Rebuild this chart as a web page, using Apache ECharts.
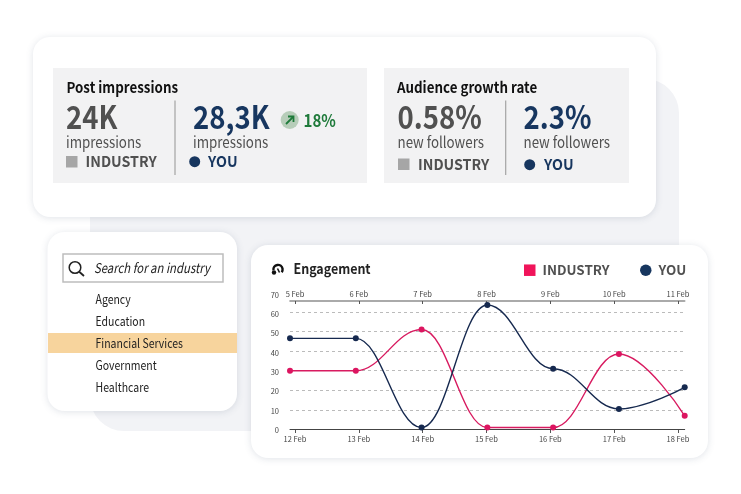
<!DOCTYPE html>
<html>
<head>
<meta charset="utf-8">
<script src="https://cdn.jsdelivr.net/npm/echarts@6/dist/echarts.min.js"></script>
<style>
html, body { margin: 0; padding: 0; background: #fff; }
#main { width: 741px; height: 494px; }
</style>
</head>
<body>
<div id="main"></div>
<script>
// chart data
var dates = ['12 Feb', '13 Feb', '14 Feb', '15 Feb', '16 Feb', '17 Feb', '18 Feb'];
var topDates = ['5 Feb', '6 Feb', '7 Feb', '8 Feb', '9 Feb', '10 Feb', '11 Feb'];
var industry = [30, 30, 51, 1, 1, 38.5, 7];
var you = [46.5, 46.5, 1, 63.5, 31, 10.5, 21.5];
var industries = ['Agency', 'Education', 'Financial Services', 'Government', 'Healthcare'];

var FONT = '"Noto Sans CJK SC", "Noto Sans", sans-serif';
var NAVY = '#17365f';
var GREY = '#505050';

function font(size, weight, style) {
    return (style ? style + ' ' : '') + (weight || 'normal') + ' ' + size + 'px ' + FONT;
}
// sx narrows the glyphs, the installed font runs wider than the picture's
function text(x, y, str, f, color, sx) {
    return {
        type: 'text', x: x, y: y, scaleX: sx || 0.88,
        style: { text: str, font: f, fill: color, verticalAlign: 'middle', align: 'left' }
    };
}
function box(x, y, w, h, color, r) {
    return { type: 'rect', shape: { x: x, y: y, width: w, height: h, r: r || 0 }, style: { fill: color } };
}
function card(x, y, w, h) {
    return {
        type: 'rect', shape: { x: x, y: y, width: w, height: h, r: 17 },
        style: { fill: '#fff', shadowBlur: 7, shadowColor: 'rgba(70,90,120,0.17)', shadowOffsetY: 1 }
    };
}
function dot(x, y, r, color) {
    return { type: 'circle', shape: { cx: x, cy: y, r: r }, style: { fill: color } };
}
function rule(x1, y1, x2, y2, color, w) {
    return { type: 'line', shape: { x1: x1, y1: y1, x2: x2, y2: y2 }, style: { stroke: color, lineWidth: w } };
}

// one half of a stat panel
function stat(x, big, label, color) {
    return [
        text(x, 117, big, font(32, 'bold'), color, 0.86),
        text(x, 142, label, font(15.5, 'normal'), GREY, 0.86)
    ];
}

var els = [];
els.push(box(90, 79, 589, 352, '#f2f3f6', 34));
els.push(card(33, 37, 623, 180));
els.push(card(47.5, 232, 189.5, 179));
els.push(card(251, 245, 457, 213));

// Post impressions
els.push(box(53, 68, 314, 115, '#f2f2f3'));
els.push(text(66.5, 87, 'Post impressions', font(15, 'bold'), '#111', 0.89));
els = els.concat(stat(66, '24K', 'impressions', GREY));
els.push(box(66, 156, 11.5, 11.5, '#a6a6a6'));
els.push(text(85.5, 161.5, 'INDUSTRY', font(15, 'bold'), GREY, 0.95));
els.push(rule(175, 100.5, 175, 175, '#a3a3a3', 1.2));
els = els.concat(stat(193, '28,3K', 'impressions', NAVY));
els.push(dot(194.7, 161.7, 5.5, NAVY));
els.push(text(208, 161.5, 'YOU', font(15, 'bold'), NAVY, 0.95));
els.push(dot(289.7, 120, 9, '#b7cdb9'));
els.push(rule(286, 124, 293, 117, '#1e7b3a', 1.8));
els.push({ type: 'polyline', shape: { points: [[288, 116.5], [293.5, 116.5], [293.5, 122]] }, style: { stroke: '#1e7b3a', fill: 'none', lineWidth: 1.8 } });
els.push(text(303.5, 121, '18%', font(17, 'bold'), '#1f7a3a', 0.89));

// Audience growth rate
els.push(box(384, 68, 245, 115, '#f2f2f3'));
els.push(text(397, 87, 'Audience growth rate', font(15, 'bold'), '#111', 0.89));
els = els.concat(stat(397.5, '0.58%', 'new followers', GREY));
els.push(box(398, 158.5, 11.5, 11.5, '#a6a6a6'));
els.push(text(418, 164.5, 'INDUSTRY', font(15, 'bold'), GREY, 0.95));
els.push(rule(505.7, 100.5, 505.7, 175, '#a3a3a3', 1.2));
els = els.concat(stat(523.5, '2.3%', 'new followers', NAVY));
els.push(dot(529.7, 164.7, 5.5, NAVY));
els.push(text(544, 164.5, 'YOU', font(15, 'bold'), NAVY, 0.95));

// Industry picker
els.push({ type: 'rect', shape: { x: 63, y: 254, width: 160, height: 28 }, style: { fill: '#fff', stroke: '#bdbdbd', lineWidth: 1.5 } });
els.push({ type: 'circle', shape: { cx: 75, cy: 267.5, r: 5.8 }, style: { fill: 'none', stroke: '#222', lineWidth: 1.5 } });
els.push(rule(79.2, 271.8, 84, 276, '#222', 1.8));
els.push(text(94, 268, 'Search for an industry', font(13.5, 'normal', 'italic'), '#222', 0.84));
els.push(box(48, 333, 189, 20, '#f7d49d'));
industries.forEach(function (name, i) {
    els.push(text(95.5, 299 + i * 22, name, font(12.5, 'normal'), '#222', 0.84));
});

// Engagement header
els.push({ type: 'arc', shape: { cx: 278, cy: 269.5, r: 4.6, startAngle: Math.PI * 0.95, endAngle: Math.PI * 2.2 }, style: { fill: 'none', stroke: '#111', lineWidth: 2.4 } });
els.push(dot(274, 272.5, 2.2, '#111'));
els.push(rule(277.5, 268.5, 279.5, 272.5, '#111', 1.6));
els.push(text(293.5, 268.5, 'Engagement', font(14, 'bold'), '#222', 0.89));

var option = {
    animation: false,
    textStyle: { fontFamily: FONT },
    graphic: { z: -10, elements: els },
    legend: {
        left: 524, top: 263.5, padding: 0, itemWidth: 11.5, itemHeight: 11.5, itemGap: 30.5,
        textStyle: { fontFamily: FONT, fontWeight: 'bold', fontSize: 13.4, color: GREY, padding: [0, 0, 0, 2] },
        data: [
            { name: 'INDUSTRY', icon: 'rect', itemStyle: { color: '#f0145a' } },
            { name: 'YOU', icon: 'circle', itemStyle: { color: NAVY } }
        ]
    },
    // the picture's labels and ticks sit slightly off its marks, so they get their own grid
    grid: [
        { left: 290, width: 394.7, top: 292.3, height: 137.2 },
        { left: 295, width: 383, top: 295, height: 135 }
    ],
    xAxis: [
        {   // data axis, only its line is visible
            gridIndex: 0, type: 'category', boundaryGap: false, data: dates,
            axisLine: { lineStyle: { color: '#444', width: 1 } }, axisTick: { show: false }, axisLabel: { show: false }
        },
        {
            gridIndex: 1, type: 'category', boundaryGap: false, data: dates,
            axisLine: { show: false }, axisTick: { show: true, length: 3, lineStyle: { color: '#555' } },
            axisLabel: { interval: 0, fontSize: 7.5, color: '#444', margin: 5 }
        },
        {
            gridIndex: 1, type: 'category', position: 'top', offset: -6, boundaryGap: false, data: topDates,
            axisLine: { show: false }, axisTick: { show: true, inside: true, length: 3, lineStyle: { color: '#555' } },
            axisLabel: { interval: 0, fontSize: 7.5, color: '#444', margin: 3 }
        },
        {   // grey top rule
            gridIndex: 0, type: 'category', position: 'top', offset: -8.7, boundaryGap: false, data: topDates,
            axisLine: { lineStyle: { color: '#8f8f8f', width: 1.6 } }, axisTick: { show: false }, axisLabel: { show: false }
        }
    ],
    yAxis: [
        {
            gridIndex: 0, type: 'value', min: 0, max: 70, interval: 10,
            axisLine: { show: false }, axisTick: { show: false }, axisLabel: { show: false },
            splitLine: { show: true, showMinLine: false, showMaxLine: false, lineStyle: { type: [3, 3], color: '#bbb', width: 1 } }
        },
        {
            gridIndex: 1, type: 'value', min: 0, max: 70, interval: 10,
            axisLine: { show: false }, axisTick: { show: false }, splitLine: { show: false },
            axisLabel: { fontSize: 7.5, color: '#444', margin: 16 }
        }
    ],
    series: [
        {
            name: 'INDUSTRY', type: 'line', xAxisIndex: 0, yAxisIndex: 0, data: industry,
            smooth: 0.4, smoothMonotone: 'x', symbol: 'circle', symbolSize: 6,
            itemStyle: { color: '#dc1560' }, lineStyle: { color: '#d81b60', width: 1.4 }
        },
        {
            name: 'YOU', type: 'line', xAxisIndex: 0, yAxisIndex: 0, data: you,
            smooth: 0.4, smoothMonotone: 'x', symbol: 'circle', symbolSize: 6,
            itemStyle: { color: '#16294f' }, lineStyle: { color: '#16294f', width: 1.4 }
        }
    ]
};

var chart = echarts.init(document.getElementById('main'));
chart.setOption(option);
</script>
</body>
</html>
